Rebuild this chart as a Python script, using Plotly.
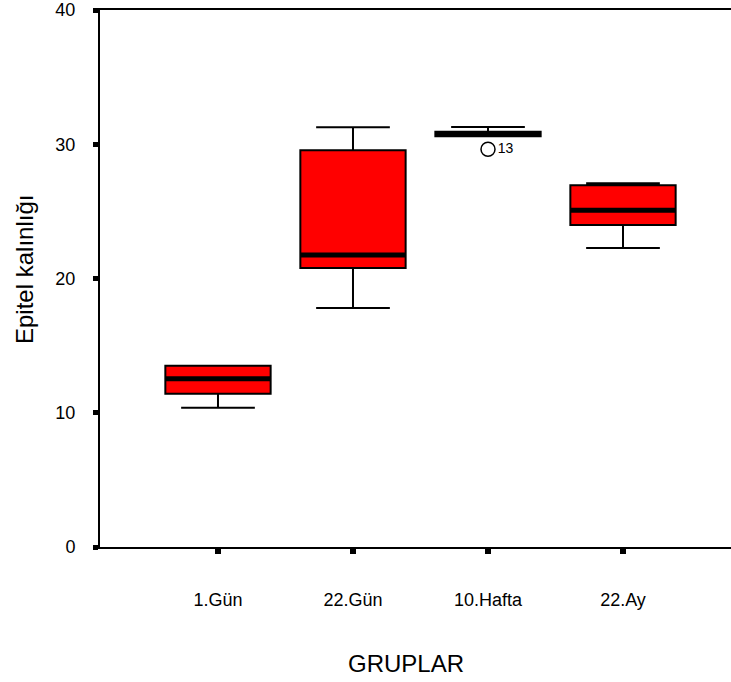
import plotly.graph_objects as go

# ---- data ----
categories = ["1.Gün", "22.Gün", "10.Hafta", "22.Ay"]
lower_whisker = [10.37, 17.81, 30.60, 22.27]
q1_values = [11.41, 20.78, 30.60, 23.98]
median_values = [12.53, 21.75, 30.76, 25.09]
q3_values = [13.50, 29.55, 30.93, 26.95]
upper_whisker = [13.50, 31.26, 31.29, 27.10]
outlier_group = [2]
outlier_values = [29.63]
outlier_labels = ["13"]
y_ticks = [0, 10, 20, 30, 40]

positions = list(range(len(categories)))
BOX_W = 0.78
FONT = "Liberation Sans, Arial, sans-serif"

W, H = 731, 682
L, T, B = 100, 10, 135
PW, PH = W - L, H - T - B

fig = go.Figure()
fig.add_trace(go.Box(
    x=positions,
    q1=q1_values, median=median_values, q3=q3_values,
    lowerfence=lower_whisker, upperfence=upper_whisker,
    width=BOX_W, whiskerwidth=0.7,
    fillcolor="#FF0000",
    line=dict(color="black", width=2),
    boxpoints=False, hoverinfo="skip",
))

# thick median bars
mx, my = [], []
for p, m in zip(positions, median_values):
    mx += [p - BOX_W / 2, p + BOX_W / 2, None]
    my += [m, m, None]
fig.add_trace(go.Scatter(x=mx, y=my, mode="lines",
                         line=dict(color="black", width=5), hoverinfo="skip"))

# outlier
fig.add_trace(go.Scatter(
    x=outlier_group, y=outlier_values, mode="markers+text",
    marker=dict(symbol="circle-open", size=14, color="black", line=dict(width=1.5)),
    text=outlier_labels, textposition="middle right",
    textfont=dict(family=FONT, size=14, color="black"),
    hoverinfo="skip",
))

fig.update_layout(
    width=W, height=H,
    margin=dict(l=L, r=0, t=T, b=B),
    plot_bgcolor="white", paper_bgcolor="white",
    showlegend=False,
    font=dict(family=FONT, color="black"),
    xaxis=dict(
        range=[-0.874, 3.8],
        tickvals=positions, ticktext=categories,
        showgrid=False, zeroline=False,
        showline=True, linecolor="black", linewidth=2, mirror=True,
        ticks="outside", ticklen=5, tickwidth=6, tickcolor="black",
        ticklabelstandoff=30,
        tickfont=dict(family=FONT, size=18, color="black"),
    ),
    yaxis=dict(
        range=[0, 40],
        tickvals=y_ticks,
        showgrid=False, zeroline=False,
        showline=True, linecolor="black", linewidth=2,
        ticks="outside", ticklen=5, tickwidth=5, tickcolor="black",
        ticklabelstandoff=14, ticklabeloverflow="allow",
        tickfont=dict(family=FONT, size=18, color="black"),
    ),
    annotations=[
        dict(text="Epitel kalınlığı", xref="paper", yref="paper",
             x=(24 - L) / PW, y=(H - B - 270) / PH,
             xanchor="center", yanchor="middle", textangle=-90,
             showarrow=False, font=dict(family=FONT, size=24, color="black")),
        dict(text="GRUPLAR", xref="paper", yref="paper",
             x=(406 - L) / PW, y=(H - B - 663) / PH,
             xanchor="center", yanchor="middle",
             showarrow=False, font=dict(family=FONT, size=24, color="black")),
    ],
)

fig.write_html(
    "out.html",
    config={"displayModeBar": False},
    post_script="document.body.style.margin='0';document.body.style.overflow='hidden';",
)
